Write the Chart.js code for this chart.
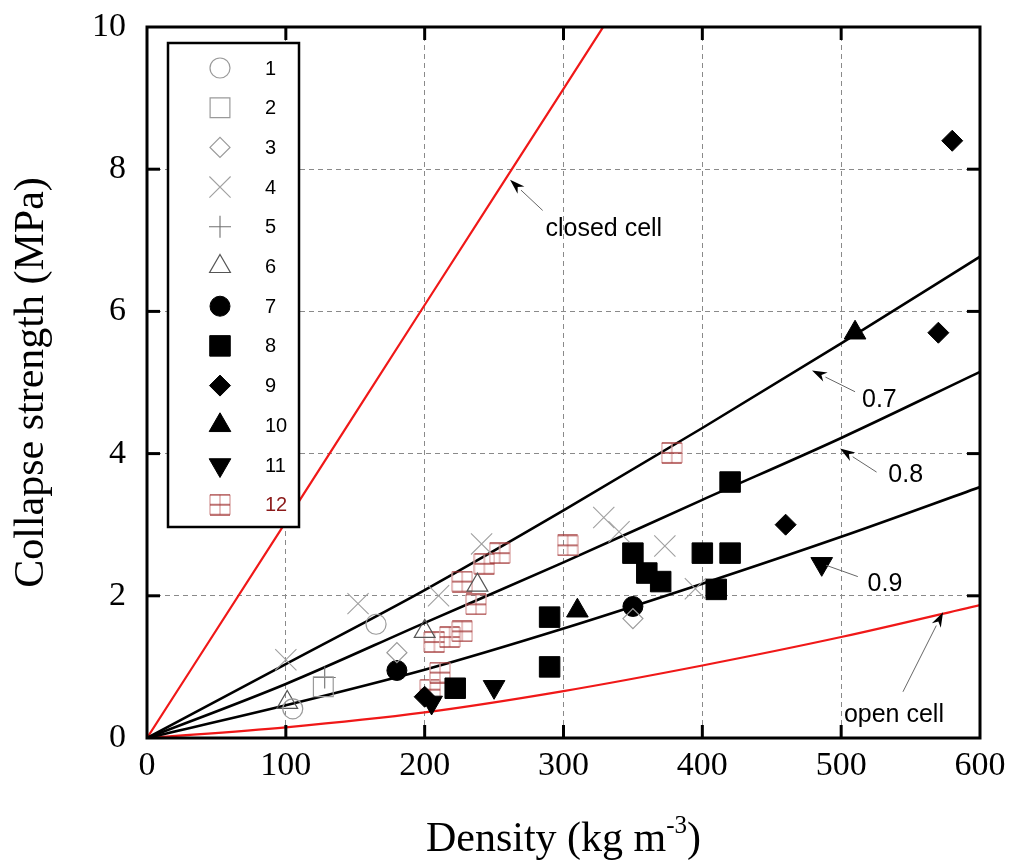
<!DOCTYPE html>
<html><head><meta charset="utf-8">
<script src="https://cdn.jsdelivr.net/npm/chart.js@4.4.1/dist/chart.umd.min.js"></script>
<style>html,body{margin:0;padding:0;background:#fff}#wrap{width:1011px;height:861px;position:relative}</style>
</head><body><div id="wrap"><canvas id="c" width="1011" height="861"></canvas></div>
<script>
// ---------- data ----------
const xTicks = [0, 100, 200, 300, 400, 500, 600];
const yTicks = [0, 2, 4, 6, 8, 10];
const legendLabels = ['1','2','3','4','5','6','7','8','9','10','11','12'];

const s1 = [[105,0.41],[165,1.60]];
const s2 = [[127,0.72]];
const s3 = [[180,1.20],[350,1.68]];
const s4 = [[100,1.10],[152,1.89],[210,2.00],[241,2.73],[329,3.10],[340,2.90],[373,2.70],[395,2.10]];
const s5 = [[128,0.85]];
const s6 = [[101,0.50],[200,1.50],[238,2.15]];
const s7 = [[180,0.95],[350,1.85]];
const s8 = [[222,0.70],[290,1.00],[290,1.70],[350,2.60],[360,2.32],[370,2.20],[400,2.60],[410,2.09],[420,2.60],[420,3.60]];
const s9 = [[200,0.58],[460,3.00],[570,5.70],[580,8.40]];
const s10 = [[310,1.79],[510,5.70]];
const s11 = [[205,0.50],[250,0.72],[486,2.45]];
const s12 = [[204,0.68],[211,0.92],[207,1.35],[218,1.42],[227,1.50],[237,1.88],[227,2.20],[243,2.45],[254,2.60],[303,2.71],[378,4.01]];

const curveDensity = [0, 100, 200, 300, 400, 500, 600];
const phi07 = [0, 1.04, 2.08, 3.20, 4.36, 5.55, 6.77];
const phi08 = [0, 0.76, 1.62, 2.47, 3.35, 4.22, 5.15];
const phi09 = [0, 0.46, 0.96, 1.54, 2.17, 2.83, 3.53];
const openCell = [0, 0.15, 0.36, 0.66, 1.02, 1.42, 1.87];
const closedDensity = [0, 100, 200, 300, 340];
const closedCell = [0, 3.04, 6.09, 9.13, 10.35];

const annotationTexts = ['closed cell', '0.7', '0.8', '0.9', 'open cell'];
// ---------- layout / styles ----------
const annotationPlaces = [
  {tx:287, ty:7.16, align:'left', ax:285, ay:7.42, hx:261.5, hy:7.85},
  {tx:515, ty:4.75, align:'left', ax:510, ay:4.87, hx:479, hy:5.17},
  {tx:534, ty:3.70, align:'left', ax:525.5, ay:3.74, hx:499.2, hy:4.07},
  {tx:519, ty:2.17, align:'left', ax:512, ay:2.27, hx:479, hy:2.50},
  {tx:538, ty:0.32, align:'center', ax:544.5, ay:0.65, hx:573.4, hy:1.77}
];

function makeGridMarker(){
  const c = document.createElement('canvas');
  c.width = 22; c.height = 22;
  const g = c.getContext('2d');
  g.lineWidth = 1.4;
  g.strokeStyle = '#dba6a6';
  [1, 11, 21].forEach(v => { g.beginPath(); g.moveTo(v, 1); g.lineTo(v, 21); g.stroke(); });
  g.strokeStyle = '#a33535';
  [1, 11, 21].forEach(v => { g.beginPath(); g.moveTo(1, v); g.lineTo(21, v); g.stroke(); });
  return c;
}
const gridMarker = makeGridMarker();

const markerStyles = [
  {pointStyle:'circle', radius:10, fill:'rgba(0,0,0,0)', stroke:'#9a9a9a', bw:1.2},
  {pointStyle:'rect', radius:14, fill:'rgba(0,0,0,0)', stroke:'#9a9a9a', bw:1.2},
  {pointStyle:'rectRot', radius:10, fill:'rgba(0,0,0,0)', stroke:'#9a9a9a', bw:1.2},
  {pointStyle:'crossRot', radius:15, fill:'rgba(0,0,0,0)', stroke:'#a0a0a0', bw:1.1},
  {pointStyle:'cross', radius:11, fill:'rgba(0,0,0,0)', stroke:'#707070', bw:1.1},
  {pointStyle:'triangle', radius:12, fill:'rgba(0,0,0,0)', stroke:'#555555', bw:1.2},
  {pointStyle:'circle', radius:10, fill:'#000', stroke:'#000', bw:1},
  {pointStyle:'rect', radius:14.5, fill:'#000', stroke:'#000', bw:1},
  {pointStyle:'rectRot', radius:10.5, fill:'#000', stroke:'#000', bw:1},
  {pointStyle:'triangle', radius:12.5, fill:'#000', stroke:'#000', bw:1},
  {pointStyle:'triangle', radius:12.5, fill:'#000', stroke:'#000', bw:1, rotation:180},
  {pointStyle:gridMarker, radius:11, fill:'rgba(0,0,0,0)', stroke:'#a33535', bw:1}
];
const seriesList = [s1,s2,s3,s4,s5,s6,s7,s8,s9,s10,s11,s12];

const scatterSets = seriesList.map((s, i) => {
  const m = markerStyles[i];
  return {
    label: legendLabels[i],
    data: s.map(p => ({x:p[0], y:p[1]})),
    pointStyle: m.pointStyle,
    pointRadius: m.radius,
    pointRotation: m.rotation || 0,
    backgroundColor: m.fill,
    borderColor: m.stroke,
    pointBorderWidth: m.bw,
    showLine: false
  };
});
function curve(xs, ys, color, w){
  return {
    label: '', data: xs.map((x, i) => ({x, y: ys[i]})),
    showLine: true, pointRadius: 0, borderColor: color, borderWidth: w,
    cubicInterpolationMode: 'monotone', fill: false
  };
}
const lineSets = [
  curve(curveDensity, phi07, '#000', 2.6),
  curve(curveDensity, phi08, '#000', 2.6),
  curve(curveDensity, phi09, '#000', 2.6),
  curve(curveDensity, openCell, '#f01818', 2.2),
  curve(closedDensity, closedCell, '#f01818', 2.2)
];

const SERIF = '"Liberation Serif", "Times New Roman", serif';
const SANS = '"Liberation Sans", Arial, sans-serif';

const decor = {
  id: 'decor',
  afterDatasetsDraw(chart){
    const {ctx, chartArea:a, scales:{x, y}} = chart;
    ctx.save();
    // annotations
    annotationPlaces.forEach((p, i) => {
      const ax = x.getPixelForValue(p.ax), ay = y.getPixelForValue(p.ay);
      const hx = x.getPixelForValue(p.hx), hy = y.getPixelForValue(p.hy);
      const ang = Math.atan2(hy - ay, hx - ax);
      const L = 15, W = 5;
      const bx = hx - L*Math.cos(ang), by = hy - L*Math.sin(ang);
      ctx.strokeStyle = '#666'; ctx.lineWidth = 1;
      ctx.beginPath(); ctx.moveTo(ax, ay); ctx.lineTo(bx, by); ctx.stroke();
      ctx.fillStyle = '#000';
      ctx.beginPath();
      ctx.moveTo(hx, hy);
      ctx.lineTo(bx - W*Math.sin(ang), by + W*Math.cos(ang));
      ctx.lineTo(hx - 0.7*L*Math.cos(ang), hy - 0.7*L*Math.sin(ang));
      ctx.lineTo(bx + W*Math.sin(ang), by - W*Math.cos(ang));
      ctx.closePath(); ctx.fill();
      ctx.font = '25px ' + SANS; ctx.textBaseline = 'middle'; ctx.textAlign = p.align;
      ctx.fillText(annotationTexts[i], x.getPixelForValue(p.tx), y.getPixelForValue(p.ty));
    });
    // legend box
    const bl = a.left + 21, bt = a.top + 16, bw = 131, bh = 484;
    ctx.fillStyle = '#fff'; ctx.fillRect(bl, bt, bw, bh);
    ctx.strokeStyle = '#000'; ctx.lineWidth = 2.5; ctx.strokeRect(bl, bt, bw, bh);
    legendLabels.forEach((lab, i) => {
      const m = markerStyles[i];
      const cy = bt + 25 + i*39.7, cx = bl + 52;
      ctx.fillStyle = m.fill; ctx.strokeStyle = m.stroke; ctx.lineWidth = m.bw;
      Chart.helpers.drawPoint(ctx, {pointStyle:m.pointStyle, radius:m.radius, rotation:m.rotation || 0, borderWidth:m.bw}, cx, cy);
      ctx.fillStyle = i === 11 ? '#8b1a1a' : '#000';
      ctx.font = '20px ' + SANS; ctx.textAlign = 'left'; ctx.textBaseline = 'middle';
      ctx.fillText(lab, bl + 97, cy + 1);
    });
    // inner ticks
    ctx.strokeStyle = '#000'; ctx.lineWidth = 3;
    xTicks.forEach(v => {
      if (v === xTicks[0] || v === xTicks[xTicks.length-1]) return;
      const px = x.getPixelForValue(v);
      ctx.beginPath(); ctx.moveTo(px, a.bottom); ctx.lineTo(px, a.bottom - 13); ctx.stroke();
      ctx.beginPath(); ctx.moveTo(px, a.top); ctx.lineTo(px, a.top + 13); ctx.stroke();
    });
    yTicks.forEach(v => {
      if (v === yTicks[0] || v === yTicks[yTicks.length-1]) return;
      const py = y.getPixelForValue(v);
      ctx.beginPath(); ctx.moveTo(a.left, py); ctx.lineTo(a.left + 13, py); ctx.stroke();
      ctx.beginPath(); ctx.moveTo(a.right, py); ctx.lineTo(a.right - 13, py); ctx.stroke();
    });
    // frame
    ctx.lineWidth = 3;
    ctx.strokeRect(a.left, a.top, a.right - a.left, a.bottom - a.top);
    // axis titles
    ctx.fillStyle = '#000';
    ctx.save();
    ctx.translate(32, (a.top + a.bottom)/2);
    ctx.rotate(-Math.PI/2);
    ctx.font = '42px ' + SERIF; ctx.textAlign = 'center'; ctx.textBaseline = 'middle';
    ctx.fillText('Collapse strength (MPa)', 0, 0);
    ctx.restore();
    const t1 = 'Density (kg m', t2 = '-3', t3 = ')';
    ctx.font = '42px ' + SERIF; const w1 = ctx.measureText(t1).width, w3 = ctx.measureText(t3).width;
    ctx.font = '25px ' + SERIF; const w2 = ctx.measureText(t2).width;
    const total = w1 + w2 + w3;
    let sx = (a.left + a.right)/2 - total/2;
    ctx.textAlign = 'left'; ctx.textBaseline = 'alphabetic';
    ctx.font = '42px ' + SERIF; ctx.fillText(t1, sx, 851);
    ctx.font = '25px ' + SERIF; ctx.fillText(t2, sx + w1, 833);
    ctx.font = '42px ' + SERIF; ctx.fillText(t3, sx + w1 + w2, 851);
    ctx.restore();
  }
};

new Chart(document.getElementById('c'), {
  type: 'scatter',
  data: { datasets: [...scatterSets, ...lineSets] },
  options: {
    responsive: false, animation: false,
    layout: { padding: { left: 0, top: 27, right: 31, bottom: 0 } },
    plugins: { legend: { display: false }, tooltip: { enabled: false } },
    scales: {
      x: {
        type: 'linear', min: 0, max: 600,
        afterBuildTicks: s => { s.ticks = xTicks.map(v => ({value: v})); },
        afterFit: s => { s.height = 123; s.paddingLeft = 0; s.paddingRight = 0; },
        ticks: { font: { family: SERIF, size: 34 }, color: '#000', padding: 8, maxRotation: 0 },
        grid: { color: '#8a8a8a', lineWidth: 1, drawTicks: false },
        border: { display: false, dash: [5, 4] }
      },
      y: {
        type: 'linear', min: 0, max: 10,
        afterBuildTicks: s => { s.ticks = yTicks.map(v => ({value: v})); },
        afterFit: s => { s.width = 147; s.paddingTop = 0; s.paddingBottom = 0; },
        ticks: { font: { family: SERIF, size: 34 }, color: '#000', padding: 21 },
        grid: { color: '#8a8a8a', lineWidth: 1, drawTicks: false },
        border: { display: false, dash: [5, 4] }
      }
    }
  },
  plugins: [decor]
});
</script></body></html>
